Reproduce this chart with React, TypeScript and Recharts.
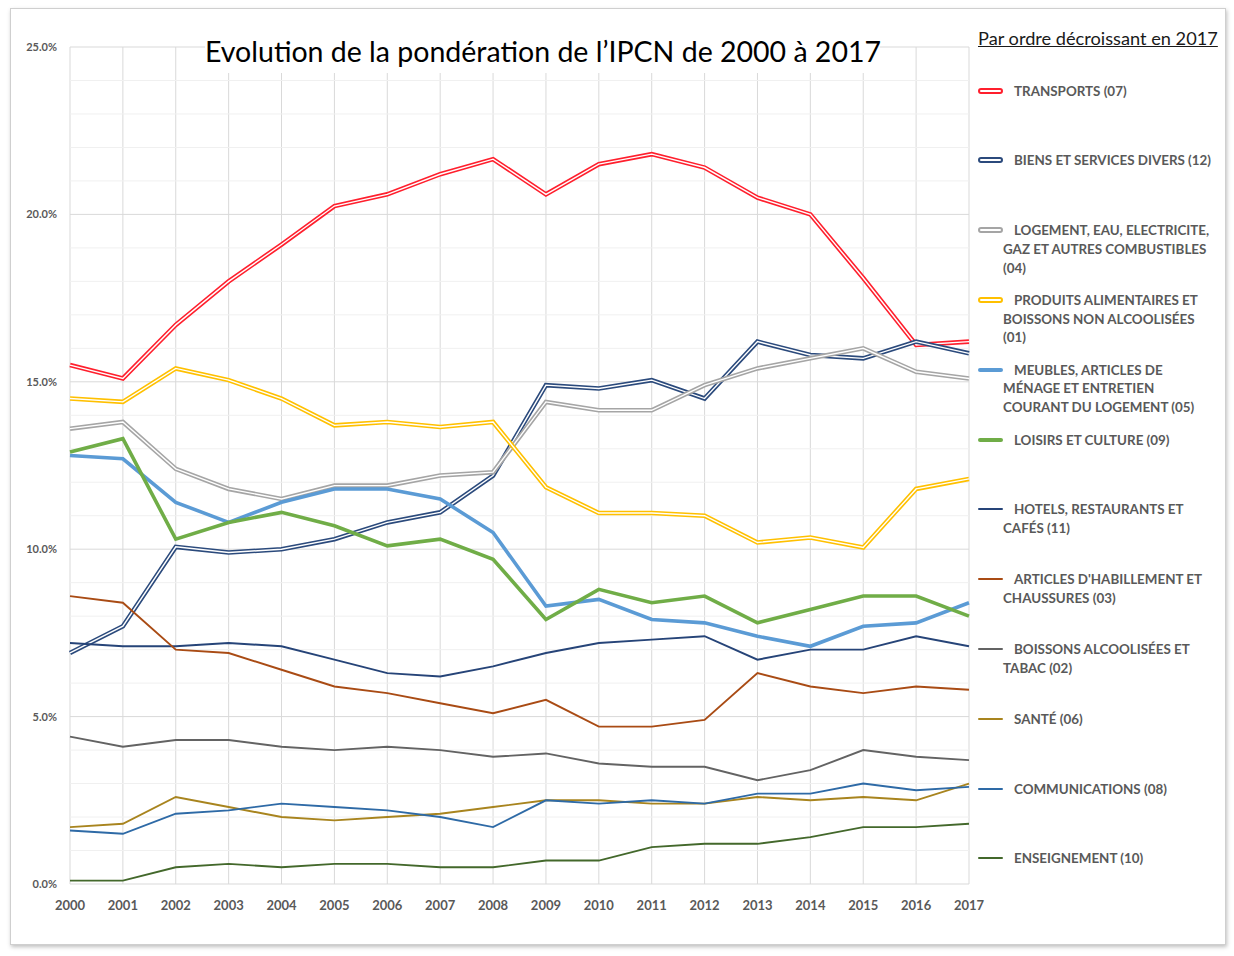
import React from "react";
import { LineChart, Line, XAxis, YAxis, CartesianGrid, ReferenceLine } from "recharts";

const years = [2000, 2001, 2002, 2003, 2004, 2005, 2006, 2007, 2008, 2009, 2010, 2011, 2012, 2013, 2014, 2015, 2016, 2017];

const transports = [15.5, 15.1, 16.7, 18.0, 19.1, 20.25, 20.6, 21.2, 21.65, 20.6, 21.5, 21.8, 21.4, 20.5, 20.0, 18.1, 16.1, 16.2];
const biens = [6.9, 7.7, 10.07, 9.9, 10.0, 10.3, 10.8, 11.1, 12.2, 14.9, 14.8, 15.05, 14.5, 16.2, 15.8, 15.7, 16.2, 15.85];
const logement = [13.6, 13.8, 12.4, 11.8, 11.5, 11.9, 11.9, 12.2, 12.3, 14.4, 14.15, 14.15, 14.9, 15.4, 15.7, 16.0, 15.3, 15.1];
const produits = [14.5, 14.4, 15.4, 15.05, 14.5, 13.7, 13.8, 13.65, 13.8, 11.85, 11.08, 11.08, 11.0, 10.2, 10.35, 10.05, 11.8, 12.1];
const meubles = [12.8, 12.7, 11.4, 10.8, 11.4, 11.8, 11.8, 11.5, 10.5, 8.3, 8.5, 7.9, 7.8, 7.4, 7.1, 7.7, 7.8, 8.4];
const loisirs = [12.9, 13.3, 10.3, 10.8, 11.1, 10.7, 10.1, 10.3, 9.7, 7.9, 8.8, 8.4, 8.6, 7.8, 8.2, 8.6, 8.6, 8.0];
const hotels = [7.2, 7.1, 7.1, 7.2, 7.1, 6.7, 6.3, 6.2, 6.5, 6.9, 7.2, 7.3, 7.4, 6.7, 7.0, 7.0, 7.4, 7.1];
const habillement = [8.6, 8.4, 7.0, 6.9, 6.4, 5.9, 5.7, 5.4, 5.1, 5.5, 4.7, 4.7, 4.9, 6.3, 5.9, 5.7, 5.9, 5.8];
const boissons = [4.4, 4.1, 4.3, 4.3, 4.1, 4.0, 4.1, 4.0, 3.8, 3.9, 3.6, 3.5, 3.5, 3.1, 3.4, 4.0, 3.8, 3.7];
const sante = [1.7, 1.8, 2.6, 2.3, 2.0, 1.9, 2.0, 2.1, 2.3, 2.5, 2.5, 2.4, 2.4, 2.6, 2.5, 2.6, 2.5, 3.0];
const communications = [1.6, 1.5, 2.1, 2.2, 2.4, 2.3, 2.2, 2.0, 1.7, 2.5, 2.4, 2.5, 2.4, 2.7, 2.7, 3.0, 2.8, 2.9];
const enseignement = [0.1, 0.1, 0.5, 0.6, 0.5, 0.6, 0.6, 0.5, 0.5, 0.7, 0.7, 1.1, 1.2, 1.2, 1.4, 1.7, 1.7, 1.8];

const yTicks = [0, 5, 10, 15, 20, 25];
const minorTicks = [1, 2, 3, 4, 6, 7, 8, 9, 11, 12, 13, 14, 16, 17, 18, 19, 21, 22, 23, 24];

const title = "Evolution de la pondération de l\u2019IPCN de 2000 à 2017";
const legendTitle = "Par ordre décroissant en 2017";

type Kind = "double" | "thick" | "thin";
const series: { key: string; name: string; values: number[]; color: string; kind: Kind }[] = [
  { key: "transports", name: "TRANSPORTS (07)", values: transports, color: "#FF1F2D", kind: "double" },
  { key: "biens", name: "BIENS ET SERVICES DIVERS (12)", values: biens, color: "#2B4A7C", kind: "double" },
  { key: "logement", name: "LOGEMENT, EAU, ELECTRICITE,\nGAZ ET AUTRES COMBUSTIBLES\n(04)", values: logement, color: "#A5A5A5", kind: "double" },
  { key: "produits", name: "PRODUITS ALIMENTAIRES ET\nBOISSONS NON ALCOOLISÉES\n(01)", values: produits, color: "#FFC000", kind: "double" },
  { key: "meubles", name: "MEUBLES, ARTICLES DE\nMÉNAGE ET ENTRETIEN\nCOURANT DU LOGEMENT (05)", values: meubles, color: "#5B9BD5", kind: "thick" },
  { key: "loisirs", name: "LOISIRS ET CULTURE (09)", values: loisirs, color: "#70AD47", kind: "thick" },
  { key: "hotels", name: "HOTELS, RESTAURANTS ET\nCAFÉS (11)", values: hotels, color: "#264478", kind: "thin" },
  { key: "habillement", name: "ARTICLES D'HABILLEMENT ET\nCHAUSSURES (03)", values: habillement, color: "#A94B14", kind: "thin" },
  { key: "boissons", name: "BOISSONS ALCOOLISÉES ET\nTABAC (02)", values: boissons, color: "#636363", kind: "thin" },
  { key: "sante", name: "SANTÉ (06)", values: sante, color: "#A8841E", kind: "thin" },
  { key: "communications", name: "COMMUNICATIONS (08)", values: communications, color: "#2E6AA6", kind: "thin" },
  { key: "enseignement", name: "ENSEIGNEMENT (10)", values: enseignement, color: "#43682B", kind: "thin" },
];

const data = years.map((y, i) => {
  const row: Record<string, number> = { year: y };
  series.forEach((s) => {
    row[s.key] = s.values[i];
  });
  return row;
});

const FONT = "Lato, 'Open Sans', sans-serif";
const GRAY = "#595959";

function Swatch({ color, kind }: { color: string; kind: Kind }) {
  const base: React.CSSProperties = { position: "absolute", left: 978, width: 25, boxSizing: "border-box", borderRadius: 3 };
  if (kind === "double")
    return <div style={{ ...base, height: 6, top: -3, border: `2px solid ${color}`, background: "#fff" }} />;
  if (kind === "thick") return <div style={{ ...base, height: 4, top: -2, background: color }} />;
  return <div style={{ ...base, height: 2, top: -1, background: color, borderRadius: 1 }} />;
}

export default function App() {
  return (
    <div style={{ position: "absolute", left: 0, top: 0, width: 1234, height: 956, background: "#fff", fontFamily: FONT }}>
      <div
        style={{
          position: "absolute",
          left: 10,
          top: 8,
          width: 1214,
          height: 935,
          border: "1px solid #cfcfcf",
          boxShadow: "1px 2px 4px rgba(0,0,0,0.25)",
          background: "#fff",
        }}
      />
      <div style={{ position: "absolute", left: 0, top: 0 }}>
        <LineChart width={1000} height={920} data={data} margin={{ top: 47, right: 31, left: 0, bottom: 0 }}>
          {minorTicks.map((t) => (
            <ReferenceLine key={t} y={t} stroke="#f0f0f0" strokeWidth={1} ifOverflow="extendDomain" />
          ))}
          <CartesianGrid stroke="#d9d9d9" strokeWidth={1} />
          <XAxis
            dataKey="year"
            type="number"
            domain={[2000, 2017]}
            ticks={years}
            interval={0}
            height={36}
            tickLine={false}
            axisLine={false}
            tickSize={0}
            tickMargin={17}
            tick={{ fill: GRAY, fontSize: 13, fontWeight: 700, fontFamily: FONT }}
          />
          <YAxis
            type="number"
            domain={[0, 25]}
            ticks={yTicks}
            width={70}
            tickLine={false}
            axisLine={false}
            tickSize={0}
            tickMargin={13}
            tickFormatter={(v: number) => `${v.toFixed(1)}%`}
            tick={{ fill: GRAY, fontSize: 11, fontWeight: 700, fontFamily: FONT }}
          />
          {series.map((s) => {
            if (s.kind === "double") {
              return [
                <Line key={s.key + "-o"} type="linear" dataKey={s.key} stroke={s.color} strokeWidth={4.6} dot={false} isAnimationActive={false} activeDot={false} />,
                <Line key={s.key + "-i"} type="linear" dataKey={s.key} stroke="#ffffff" strokeWidth={1.4} dot={false} isAnimationActive={false} activeDot={false} />,
              ];
            }
            return (
              <Line
                key={s.key}
                type="linear"
                dataKey={s.key}
                stroke={s.color}
                strokeWidth={s.kind === "thick" ? 3.6 : 1.9}
                dot={false}
                isAnimationActive={false}
                activeDot={false}
              />
            );
          })}
        </LineChart>
      </div>
      <div
        style={{
          position: "absolute",
          left: 205,
          top: 30,
          width: 675,
          height: 43,
          background: "#fff",
          textAlign: "center",
          fontSize: 28.5,
          lineHeight: "43px",
          color: "#000",
          whiteSpace: "nowrap",
        }}
      >
        {title}
      </div>
      <div
        style={{
          position: "absolute",
          left: 978,
          top: 26,
          fontSize: 18.2,
          lineHeight: "24px",
          color: "#1a1a1a",
          textDecoration: "underline",
          whiteSpace: "nowrap",
        }}
      >
        {legendTitle}
      </div>
      {series.map((s, i) => (
        <div key={s.key} style={{ position: "absolute", left: 0, top: 90.5 + 69.8 * i }}>
          <Swatch color={s.color} kind={s.kind} />
          <div
            style={{
              position: "absolute",
              left: 1003,
              top: -9,
              width: 225,
              textIndent: 11,
              fontSize: 13.4,
              lineHeight: "18.7px",
              fontWeight: 700,
              color: GRAY,
              whiteSpace: "pre",
            }}
          >
            {s.name}
          </div>
        </div>
      ))}
    </div>
  );
}
